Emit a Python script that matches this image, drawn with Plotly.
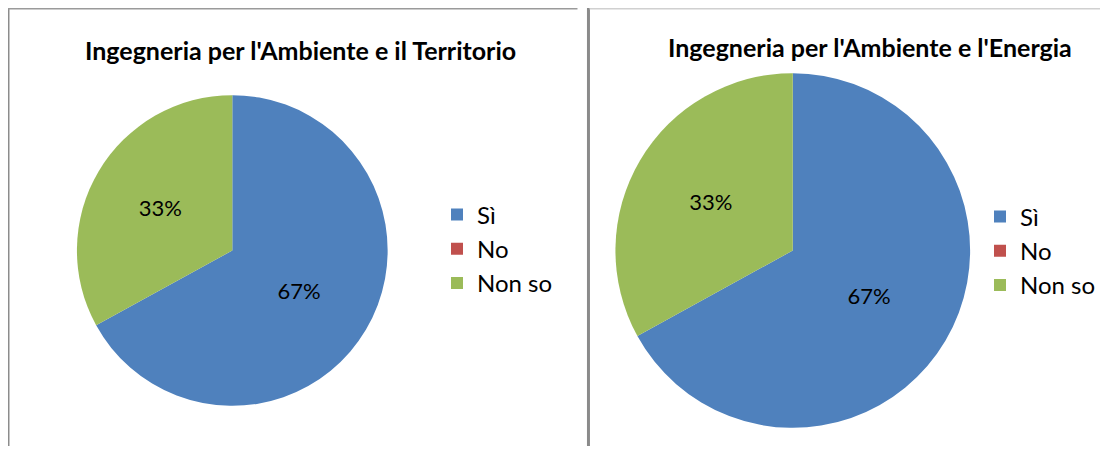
import plotly.graph_objects as go

# page has an 8px body margin; figure occupies the rest of the 1109x454 window
OFF = 8
W, H = 1109 - 2 * OFF, 454 - 2 * OFF

labels = ["Sì", "No", "Non so"]
values_territorio = [67, 0, 33]
values_energia = [67, 0, 33]
colors = ["#4F81BD", "#C0504D", "#9BBB59"]
title_territorio = "Ingegneria per l'Ambiente e il Territorio"
title_energia = "Ingegneria per l'Ambiente e l'Energia"

FONT = "Lato"


def px_x(v):
    return (v - OFF) / W


def px_y(v):
    return 1 - (v - OFF) / H


fig = go.Figure()

# pie geometry in window pixels: (cx, cy, r)
geo = [(232.5, 250.5, 155.5), (793.5, 250.5, 177.5)]
vals = [values_territorio, values_energia]
legends = ["legend", "legend2"]
# second pie gets its own legend; a zero-width space keeps its entries distinct
label_sets = [labels, [lab + "\u200b" for lab in labels]]

for (cx, cy, r), v, lg, labs in zip(geo, vals, legends, label_sets):
    fig.add_trace(go.Pie(
        labels=labs,
        values=v,
        sort=False,
        direction="clockwise",
        rotation=0,
        marker=dict(colors=colors, line=dict(width=0)),
        textinfo="percent",
        texttemplate="%{percent:.0%}",
        textposition="inside",
        insidetextorientation="horizontal",
        textfont=dict(family=FONT, size=22, color="#000000"),
        hoverinfo="label+percent",
        domain=dict(x=[px_x(cx - r), px_x(cx + r)], y=[px_y(cy + r), px_y(cy - r)]),
        legend=lg,
    ))

fig.update_layout(
    width=W, height=H,
    margin=dict(l=0, r=0, t=0, b=0),
    paper_bgcolor="white",
    plot_bgcolor="white",
    font=dict(family=FONT, color="#000000"),
    legend=dict(x=px_x(437), y=px_y(249), xanchor="left", yanchor="middle",
                font=dict(family=FONT, size=24, color="#000000"),
                bgcolor="rgba(0,0,0,0)", itemclick=False),
    legend2=dict(x=px_x(981), y=px_y(251), xanchor="left", yanchor="middle",
                 font=dict(family=FONT, size=24, color="#000000"),
                 bgcolor="rgba(0,0,0,0)", itemclick=False),
    annotations=[
        dict(text="<b>" + title_territorio + "</b>", x=px_x(301), y=px_y(50),
             xref="paper", yref="paper", xanchor="center", yanchor="middle",
             showarrow=False, font=dict(family=FONT, size=25, color="#000000")),
        dict(text="<b>" + title_energia + "</b>", x=px_x(871), y=px_y(47),
             xref="paper", yref="paper", xanchor="center", yanchor="middle",
             showarrow=False, font=dict(family=FONT, size=25, color="#000000")),
    ],
    shapes=[
        dict(type="line", xref="paper", yref="paper", x0=px_x(8.75), x1=px_x(8.75),
             y0=px_y(8), y1=0, line=dict(color="#8C8C8C", width=1.5)),
        dict(type="line", xref="paper", yref="paper", x0=px_x(8), x1=px_x(578),
             y0=px_y(8.75), y1=px_y(8.75), line=dict(color="#9A9A9A", width=1.5)),
        dict(type="line", xref="paper", yref="paper", x0=px_x(589), x1=px_x(589),
             y0=px_y(8), y1=0, line=dict(color="#8A8A8A", width=3)),
        dict(type="line", xref="paper", yref="paper", x0=px_x(590), x1=1,
             y0=px_y(8.75), y1=px_y(8.75), line=dict(color="#D0D0D0", width=1.5)),
    ],
)

fig.write_html("out.html")
